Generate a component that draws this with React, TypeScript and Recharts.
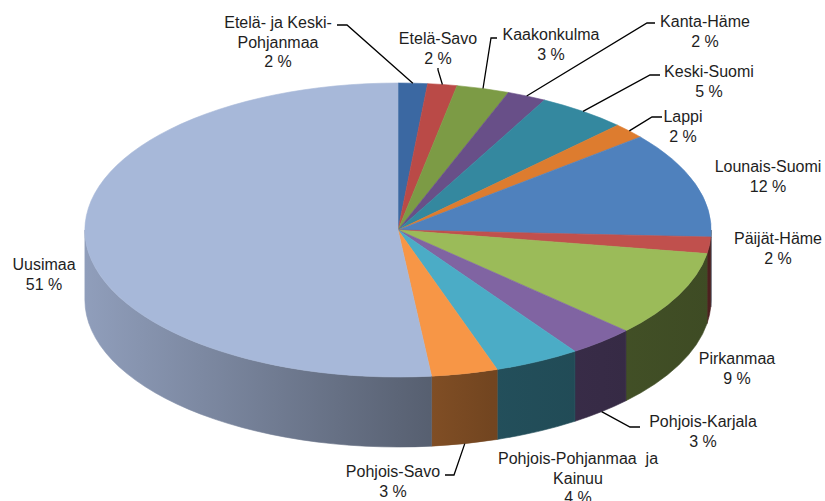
import React from 'react';
import { PieChart, Pie } from 'recharts';

// ---- data ----
const REGIONS = [
  'Etelä- ja Keski-\nPohjanmaa',
  'Etelä-Savo',
  'Kaakonkulma',
  'Kanta-Häme',
  'Keski-Suomi',
  'Lappi',
  'Lounais-Suomi',
  'Päijät-Häme',
  'Pirkanmaa',
  'Pohjois-Karjala',
  'Pohjois-Pohjanmaa  ja\nKainuu',
  'Pohjois-Savo',
  'Uusimaa',
];
const SHARES = [1.5, 1.5, 2.7, 2.0, 4.6, 1.7, 11.6, 1.8, 9.4, 3.4, 4.4, 3.4, 51.4];
const PERCENT_LABELS = ['2 %', '2 %', '3 %', '2 %', '5 %', '2 %', '12 %', '2 %', '9 %', '3 %', '4 %', '3 %', '51 %'];

// ---- styles / layout ----
const TOP_COLORS = [
  '#3B68A2', '#BA4A47', '#7C9B45', '#684F88', '#34889F', '#DD7C2F',
  '#4F81BD', '#C0504D', '#9BBB59', '#8064A2', '#4BACC6', '#F79646', '#A7B8D9',
];
const ASPECT = 2.13; // horizontal stretch of the tilted pie
const DEPTH = 70; // thickness of the pie
const FONT = "'Liberation Sans', Arial, sans-serif";

type LabelLayout = { x: number; y: number; leader?: [number, number, number, number] };
const LABEL_LAYOUT: LabelLayout[] = [
  { x: 278, y: 28, leader: [337, 25, 347, 25] },
  { x: 438, y: 44, leader: [438, 68, 438, 70] },
  { x: 551, y: 40, leader: [497, 38, 491, 38] },
  { x: 705, y: 27, leader: [655, 23, 647, 23] },
  { x: 709, y: 77, leader: [660, 75, 650, 75] },
  { x: 683, y: 122, leader: [662, 117, 652, 117] },
  { x: 768, y: 172 },
  { x: 778, y: 244 },
  { x: 737, y: 364 },
  { x: 703, y: 427, leader: [640, 427, 630, 427] },
  { x: 578, y: 464 },
  { x: 393, y: 477, leader: [445, 475, 454, 475] },
  { x: 44, y: 270 },
];

const data = REGIONS.map((name, i) => ({ name, value: SHARES[i], pct: PERCENT_LABELS[i] }));

function shade(hex: string, f: number) {
  const n = parseInt(hex.slice(1), 16);
  const r = Math.round(((n >> 16) & 255) * f);
  const g = Math.round(((n >> 8) & 255) * f);
  const b = Math.round((n & 255) * f);
  return `rgb(${r},${g},${b})`;
}

const RAD = Math.PI / 180;

const renderPiece = (props: any) => {
  const { cx, cy, outerRadius, startAngle, endAngle, midAngle, index } = props;
  const ry = outerRadius;
  const rx = outerRadius * ASPECT;
  const pt = (a: number, dy = 0) => [cx + rx * Math.cos(a * RAD), cy - ry * Math.sin(a * RAD) + dy];
  const a1 = Math.max(startAngle, endAngle);
  const a2 = Math.min(startAngle, endAngle);
  const color = TOP_COLORS[index];
  const [x1, y1] = pt(a1);
  const [x2, y2] = pt(a2);
  const large = a1 - a2 > 180 ? 1 : 0;
  const top = `M${cx},${cy} L${x1},${y1} A${rx},${ry} 0 ${large} 1 ${x2},${y2} Z`;

  // visible front wall: angles between -180 and 0
  const s = Math.min(a1, 0);
  const e = Math.max(a2, -180);
  let side: string | null = null;
  if (s > e) {
    const [sx, sy] = pt(s);
    const [ex, ey] = pt(e);
    const l2 = s - e > 180 ? 1 : 0;
    side = `M${sx},${sy} A${rx},${ry} 0 ${l2} 1 ${ex},${ey} L${ex},${ey + DEPTH} A${rx},${ry} 0 ${l2} 0 ${sx},${sy + DEPTH} Z`;
  }
  const gid = `side-grad-${index}`;

  const layout = LABEL_LAYOUT[index];
  const sinM = Math.sin(midAngle * RAD);
  const [ax, ay] = pt(midAngle, sinM < 0 ? DEPTH : 0);
  const lines = String(props.name).split('\n').concat(props.payload?.pct ?? PERCENT_LABELS[index]);

  return (
    <g key={`piece-${index}`}>
      <defs>
        <linearGradient id={gid} gradientUnits="userSpaceOnUse" x1={cx - rx} y1={0} x2={cx + rx} y2={0}>
          <stop offset="0" stopColor={shade(color, 0.86)} />
          <stop offset="0.5" stopColor={shade(color, 0.55)} />
          <stop offset="0.65" stopColor={shade(color, 0.46)} />
          <stop offset="1" stopColor={shade(color, 0.4)} />
        </linearGradient>
      </defs>
      {side && <path d={side} fill={`url(#${gid})`} stroke={`url(#${gid})`} strokeWidth={0.6} />}
      <path d={top} fill={color} stroke={color} strokeWidth={0.6} />
      {layout.leader && (
        <polyline
          points={`${layout.leader[0]},${layout.leader[1]} ${layout.leader[2]},${layout.leader[3]} ${ax},${ay}`}
          fill="none"
          stroke="#000"
          strokeWidth={1.3}
        />
      )}
      <text
        x={layout.x}
        y={layout.y}
        textAnchor="middle"
        fontFamily={FONT}
        fontSize={16}
        fill="#1e1e1e"
        style={{ whiteSpace: 'pre' }}
      >
        {lines.map((ln: string, k: number) => (
          <tspan key={k} x={layout.x} dy={k === 0 ? 0 : 19.5}>
            {ln}
          </tspan>
        ))}
      </text>
    </g>
  );
};

export default function App() {
  return (
    <div style={{ position: 'absolute', left: 0, top: 0, width: 825, height: 501, background: '#fff' }}>
      <PieChart width={825} height={501} margin={{ top: 0, right: 0, bottom: 0, left: 0 }}>
        <Pie
          data={data}
          dataKey="value"
          nameKey="name"
          cx={398}
          cy={230}
          outerRadius={147}
          startAngle={90}
          endAngle={-270}
          fill="transparent"
          stroke="none"
          isAnimationActive={false}
          labelLine={false}
          label={renderPiece}
        />
      </PieChart>
    </div>
  );
}
